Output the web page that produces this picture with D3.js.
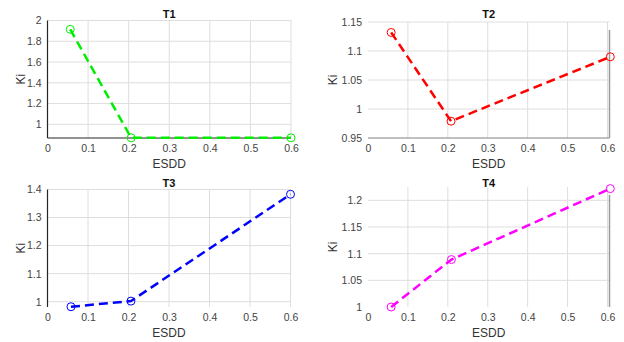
<!DOCTYPE html>
<html>
<head>
<meta charset="utf-8">
<script src="https://cdn.jsdelivr.net/npm/d3@7"></script>
<style>
  body { margin: 0; background: #fff; }
  text { font-family: Arial, "Liberation Sans", sans-serif; }
</style>
</head>
<body>
<svg width="624" height="342"></svg>
<script>
// data
let titles = ["T1", "T2", "T3", "T4"];
let colors = ["#00ee00", "#ff0000", "#0000ff", "#ff00ff"];
let t1X = [0.056, 0.206, 0.6];
let t1Y = [1.915, 0.87, 0.87];
let t2X = [0.058, 0.208, 0.607];
let t2Y = [1.132, 0.979, 1.09];
let t3X = [0.058, 0.206, 0.6];
let t3Y = [0.982, 1.002, 1.383];
let t4X = [0.058, 0.209, 0.607];
let t4Y = [1.0, 1.089, 1.222];
let xTicks = [0, 0.1, 0.2, 0.3, 0.4, 0.5, 0.6];
let t1Ticks = [1, 1.2, 1.4, 1.6, 1.8, 2];
let t2Ticks = [0.95, 1, 1.05, 1.1, 1.15];
let t3Ticks = [1, 1.1, 1.2, 1.3, 1.4];
let t4Ticks = [1, 1.05, 1.1, 1.15, 1.2];

//box = [left, top, right, bottom], titleY / kiX are text positions
let panels = [
  { x: t1X, y: t1Y, yTicks: t1Ticks, xDom: [0, 0.6], yDom: [0.868, 2], box: [47.5, 20.5, 291, 138], titleY: 18, kiX: 21, left: true, bottom: true, right: false },
  { x: t2X, y: t2Y, yTicks: t2Ticks, xDom: [0, 0.605], yDom: [0.95, 1.15], box: [368, 22, 609.5, 138], titleY: 18, kiX: 333, left: false, bottom: true, right: true },
  { x: t3X, y: t3Y, yTicks: t3Ticks, xDom: [0, 0.6], yDom: [0.981, 1.4], box: [47.5, 189.5, 290.5, 307], titleY: 187, kiX: 21, left: true, bottom: false, right: false },
  { x: t4X, y: t4Y, yTicks: t4Ticks, xDom: [0, 0.605], yDom: [1.0, 1.225], box: [368, 187, 609.5, 307], titleY: 187, kiX: 333, left: false, bottom: false, right: true }
];

let svg = d3.select("svg");

panels.forEach(function(p, i) {
  let x0 = p.box[0], y0 = p.box[1], x1 = p.box[2], y1 = p.box[3];
  let xScale = d3.scaleLinear().domain(p.xDom).range([x0, x1]);
  let yScale = d3.scaleLinear().domain(p.yDom).range([y1, y0]);
  let g = svg.append("g");

  //grid
  g.selectAll(".gx")
    .data(xTicks.filter(function(d) { return d > 0; }))
    .enter()
    .append("line")
    .attr("x1", function(d) { return xScale(d); })
    .attr("x2", function(d) { return xScale(d); })
    .attr("y1", y0)
    .attr("y2", y1)
    .attr("stroke", "#dedede")
    .attr("stroke-width", 1);
  g.selectAll(".gy")
    .data(p.yTicks.filter(function(d) { return yScale(d) < y1 - 1; }))
    .enter()
    .append("line")
    .attr("x1", x0)
    .attr("x2", x1)
    .attr("y1", function(d) { return yScale(d); })
    .attr("y2", function(d) { return yScale(d); })
    .attr("stroke", "#dedede")
    .attr("stroke-width", 1);

  //axes, labels only
  let xAxis = g.append("g")
    .attr("transform", "translate(0," + y1 + ")")
    .call(d3.axisBottom(xScale).tickValues(xTicks).tickSize(0).tickPadding(7).tickFormat(d3.format("")));
  let yAxis = g.append("g")
    .attr("transform", "translate(" + x0 + ",0)")
    .call(d3.axisLeft(yScale).tickValues(p.yTicks).tickSize(0).tickPadding(6).tickFormat(d3.format("")));
  [xAxis, yAxis].forEach(function(a) {
    a.select(".domain").remove();
    a.selectAll("text").attr("fill", "#444").style("font-size", "10.5px");
  });

  if (p.left) {
    g.append("line").attr("x1", x0).attr("x2", x0).attr("y1", y0).attr("y2", y1)
      .attr("stroke", "#262626").attr("stroke-width", 1.2);
  }
  if (p.bottom) {
    g.append("line").attr("x1", x0).attr("x2", x1).attr("y1", y1).attr("y2", y1)
      .attr("stroke", i == 0 ? "#262626" : "#808080").attr("stroke-width", 1.2);
  }
  if (p.right) {
    g.append("line").attr("x1", x1).attr("x2", x1).attr("y1", y0 + 8).attr("y2", y1)
      .attr("stroke", "#9a9a9a").attr("stroke-width", 1.5);
  }

  //title and axis labels
  g.append("text")
    .attr("x", (x0 + x1) / 2)
    .attr("y", p.titleY)
    .attr("text-anchor", "middle")
    .style("font-size", "11px")
    .style("font-weight", "bold")
    .attr("fill", "#111")
    .text(titles[i]);
  g.append("text")
    .attr("x", (x0 + x1) / 2)
    .attr("y", y1 + 30)
    .attr("text-anchor", "middle")
    .style("font-size", "12px")
    .attr("fill", "#333")
    .text("ESDD");
  g.append("text")
    .attr("transform", "translate(" + (p.kiX + 4) + "," + ((y0 + y1) / 2) + ") rotate(-90)")
    .attr("text-anchor", "middle")
    .style("font-size", "12px")
    .attr("fill", "#333")
    .text("Ki");

  //line and markers
  let pts = p.x.map(function(d, k) { return [d, p.y[k]]; });
  let line = d3.line()
    .x(function(d) { return xScale(d[0]); })
    .y(function(d) { return yScale(d[1]); });
  g.append("path")
    .datum(pts)
    .attr("d", line)
    .attr("fill", "none")
    .attr("stroke", colors[i])
    .attr("stroke-width", 2.5)
    .attr("stroke-dasharray", "9,5");
  g.selectAll(".pt")
    .data(pts)
    .enter()
    .append("circle")
    .attr("cx", function(d) { return xScale(d[0]); })
    .attr("cy", function(d) { return yScale(d[1]); })
    .attr("r", 4)
    .attr("fill", "none")
    .attr("stroke", colors[i])
    .attr("stroke-width", 1);
});
</script>
</body>
</html>
